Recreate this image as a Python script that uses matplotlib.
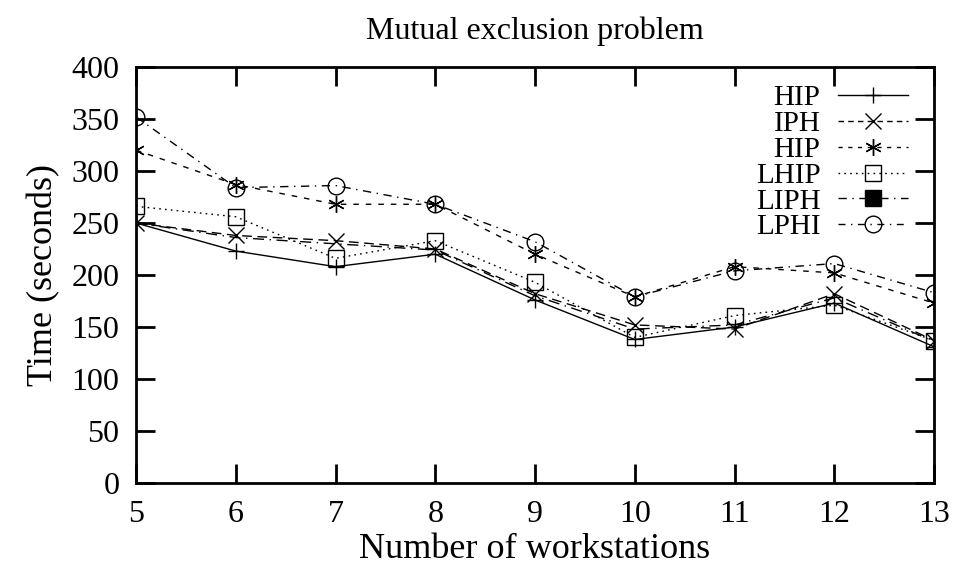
import matplotlib.pyplot as plt
from matplotlib.lines import Line2D

plt.rcParams['font.family'] = ['Liberation Serif', 'DejaVu Serif']

# Datos
workstations = [5, 6, 7, 8, 9, 10, 11, 12, 13]
hip = [250, 223, 208, 220, 176, 138, 150, 173, 131]
iph = [250, 238, 233, 225, 182, 152, 148, 182, 137]
hip2 = [320, 287, 268, 268, 220, 179, 208, 202, 173]
lhip = [266, 256, 216, 233, 193, 140, 161, 171, 137]
liph = [250, 236, 230, 224, 180, 148, 152, 178, 136]
lphi = [352, 284, 286, 268, 232, 179, 204, 211, 183]

fig = plt.figure(figsize=(9.59, 5.70), dpi=100)
ax = fig.add_axes([0.1418, 0.1526, 0.8322, 0.7299])

lw = 1.0
ms = 12
ax.plot(workstations, hip, color='black', lw=lw, ls='-', marker='+', ms=ms, mew=1.0)
ax.plot(workstations, iph, color='black', lw=lw, ls=(0, (7, 4)), marker='x', ms=ms, mew=1.0)
ax.plot(workstations, hip2, color='black', lw=lw, ls=(0, (4, 5)), marker=(6, 2, 0), ms=ms, mew=1.0)
ax.plot(workstations, lhip, color='black', lw=lw, ls=(0, (1.2, 3)), marker='s', ms=ms - 1,
        mfc='none', mew=1.0)
ax.plot(workstations, liph, color='black', lw=lw, ls=(0, (8, 4, 1, 4)))
ax.plot(workstations, lphi, color='black', lw=lw, ls=(0, (6, 4, 1, 4)), marker='o', ms=ms,
        mfc='none', mew=1.0)

handles = [
    Line2D([], [], color='black', lw=lw, ls='-', marker='+', ms=ms, mew=1.0),
    Line2D([], [], color='black', lw=lw, ls=(0, (4, 3)), marker='x', ms=ms, mew=1.0),
    Line2D([], [], color='black', lw=lw, ls=(0, (3, 4)), marker=(6, 2, 0), ms=ms, mew=1.0),
    Line2D([], [], color='black', lw=lw, ls=(0, (1.2, 3)), marker='s', ms=ms - 1, mfc='none', mew=1.0),
    Line2D([], [], color='black', lw=lw, ls=(0, (6, 4, 1, 4)), marker='s', ms=ms - 1, mfc='black', mew=1.0),
    Line2D([], [], color='black', lw=lw, ls=(0, (5, 4, 1, 4)), marker='o', ms=ms, mfc='none', mew=1.0),
]
labels = ['HIP', 'IPH', 'HIP', 'LHIP', 'LIPH', 'LPHI']
ax.legend(handles, labels, loc='upper right', frameon=False, markerfirst=False,
          fontsize=21, handlelength=2.4, handletextpad=0.6, labelspacing=-0.02,
          borderaxespad=0.0, bbox_to_anchor=(0.982, 0.985))

ax.set_xlim(5, 13)
ax.set_ylim(0, 400)
ax.set_xticks(workstations)
ax.set_yticks(range(0, 401, 50))
ax.tick_params(direction='in', length=14, width=2, labelsize=23, top=True, right=True, pad=12)
for s in ax.spines.values():
    s.set_linewidth(2)

ax.set_xlabel('Number of workstations', fontsize=26, labelpad=3)
ax.set_ylabel('Time (seconds)', fontsize=26, labelpad=8)
ax.set_title('Mutual exclusion problem', fontsize=23, pad=20)

fig.savefig('out.png', dpi=100)
